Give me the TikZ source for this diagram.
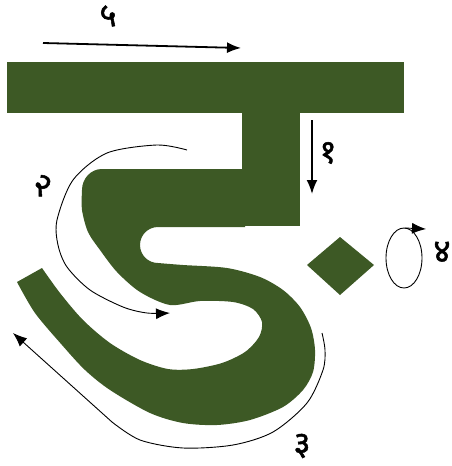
\documentclass[tikz,border=0pt]{standalone}
\usepackage{fontspec}
\newfontfamily\devafont[Script=Devanagari, FakeBold=1.5]{Noto Sans}
\usepackage{xcolor}
\usepackage{tikz}
\usetikzlibrary{positioning,arrows.meta,calc}

\definecolor{glyphgreen}{RGB}{61,89,37}

\begin{document}
\begin{tikzpicture}[x=1pt, y=-1pt, >={Latex[length=14pt,width=11pt]},
  glyph/.style={fill=glyphgreen},
  stroke/.style={->, line width=1.8pt},
  thinstroke/.style={line width=0.9pt},
  numlabel/.style={font=\devafont\fontsize{33}{35}\selectfont, inner sep=0pt}]

\useasboundingbox (0,0) rectangle (452,466);

% Letter: top bar and stem
\fill[glyph] (7,62) rectangle (404,113);
\fill[glyph] (242,100) rectangle (300,226);

% Letter: arm, curl, bowl and tail
\fill[glyph] (245,169) -- (102,169) to[out=180,in=90] (82,190)
  -- plot[smooth] coordinates {(82,190) (82,210) (88,232) (100,250) (117,272)
     (140,292) (170,305) (200,301) (233,302) (253,309) (262,322) (259,337)
     (245,352) (222,363) (193,369) (168,369) (140,360) (110,343) (83,320)
     (60,293) (42,268)}
  -- (17,282)
  -- plot[smooth] coordinates {(17,282) (35,313) (62,345) (85,370) (110,390)
     (150,413) (183,423) (217,425) (250,420) (283,407) (303,390) (313,372)
     (315,350) (311,328) (300,307) (283,290) (260,277) (227,268) (183,265)
     (158,263)}
  to[out=180,in=-90] (140,245) to[out=90,in=180] (158,227)
  -- (245,227) -- cycle;

% Dot
\fill[glyph] (307,265) -- (340,237) -- (374,265) -- (340,295) -- cycle;

% Stroke 1
\coordinate (s1a) at (312,120);
\coordinate (s1b) at (312,194);
\draw[stroke] (s1a) -- (s1b);
\node[numlabel] (n1) at (328,153) {१};

% Stroke 2
\draw[thinstroke, ->] plot[smooth] coordinates {(187,150) (157,145) (107,153)
  (73,180) (57,220) (58,245) (67,267) (90,290) (123,307) (147,313) (170,313)};
\node[numlabel, rotate=-25] (n2) at (42,186) {२};

% Stroke 3
\coordinate (s3tip) at (13,333);
\coordinate (s3bend) at (112,422);
\draw[thinstroke] plot[smooth] coordinates {(322,333) (325,350) (323,370)
  (307,403) (273,432) (233,445) (183,448) (140,440) (112,422)};
\draw[thinstroke, ->] (s3bend) -- (s3tip);
\node[numlabel] (n3) at (302,446) {३};

% Stroke 4
\draw[thinstroke] (404,258) ellipse (18 and 30);
\coordinate (s4a) at (405,228);
\coordinate (s4b) at (426,229);
\draw[thinstroke, ->] (s4a) -- (s4b);
\node[numlabel] (n4) at (442,252) {४};

% Stroke 5
\coordinate (s5a) at (43,43);
\coordinate (s5b) at (241,48);
\draw[stroke] (s5a) -- (s5b);
\node[numlabel] (n5) at (108,16) {५};

\end{tikzpicture}
\end{document}
